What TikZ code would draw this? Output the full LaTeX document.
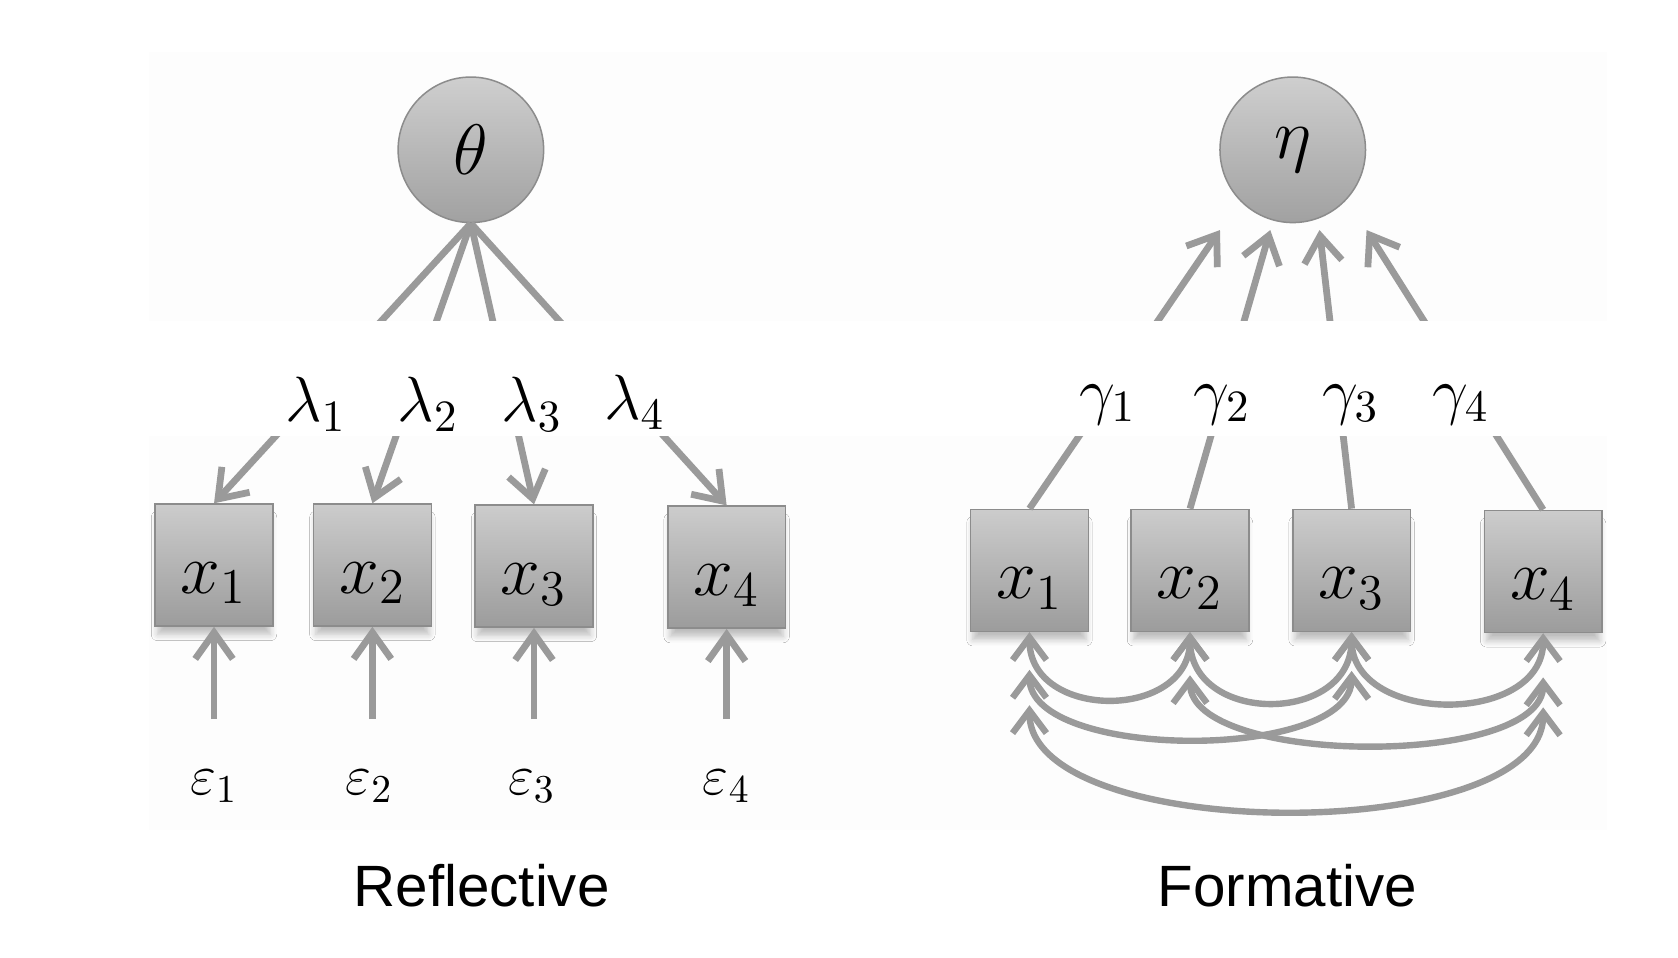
\RequirePackage{fix-cm}
\documentclass[tikz,border=0pt]{standalone}
\usepackage{fontspec}
\setsansfont{Liberation Sans}
\usetikzlibrary{arrows.meta,shadows.blur}
\definecolor{linegray}{RGB}{154,154,154}
\definecolor{boxtop}{RGB}{204,204,204}
\definecolor{boxbot}{RGB}{156,156,156}
\definecolor{boxrim}{RGB}{140,140,140}
\definecolor{panelgray}{RGB}{253,253,253}

\begin{document}
\begin{tikzpicture}[x=0.1mm,y=-0.1mm,
    latent/.style={circle,draw=boxrim,top color=boxtop!95,bottom color=boxbot!95,
      minimum size=13.6mm,inner sep=0pt,font=\fontsize{19}{22}\selectfont},
    obs/.style={rectangle,draw=boxrim,top color=boxtop,bottom color=boxbot,
      minimum width=11mm,minimum height=11.4mm,inner sep=0pt,
      text height=18pt,text depth=3pt,font=\fontsize{19}{22}\selectfont,
      blur shadow={shadow xshift=0pt,shadow yshift=-3pt,shadow scale=0.96,
        shadow opacity=25,shadow blur steps=5}},
    load/.style={draw=linegray,line width=1.8pt,-{Straight Barb[length=7pt,width=10pt]}},
    cov/.style={draw=linegray,line width=1.7pt,
      {Straight Barb[length=6pt,width=9pt]}-{Straight Barb[length=6pt,width=9pt]}},
    coef/.style={font=\fontsize{17}{20}\selectfont},
    err/.style={font=\fontsize{15}{18}\selectfont},
    title/.style={font=\sffamily\fontsize{15.5}{18}\selectfont}]
  \useasboundingbox (0,0) rectangle (1568,895);
  \fill[panelgray] (139,49) rectangle (1502,776);

  % reflective
  \node[latent] (theta) at (440,140) {$\theta$};
  \node[obs] (rx1) at (200,528) {$x_1$};
  \node[obs] (rx2) at (348,528) {$x_2$};
  \node[obs] (rx3) at (499,529) {$x_3$};
  \node[obs] (rx4) at (679,530) {$x_4$};
  \draw[load] (theta.south) -- (rx1.north);
  \draw[load] (theta.south) -- (rx2.north);
  \draw[load] (theta.south) -- (rx3.north);
  \draw[load] (theta.south) -- (rx4.north);
  \coordinate (e1s) at (200,672);
  \coordinate (e2s) at (348,672);
  \coordinate (e3s) at (499,672);
  \coordinate (e4s) at (679,672);
  \draw[load] (e1s) -- (rx1.south);
  \draw[load] (e2s) -- (rx2.south);
  \draw[load] (e3s) -- (rx3.south);
  \draw[load] (e4s) -- (rx4.south);
  \node[err] (e1) at (200,735) {$\varepsilon_1$};
  \node[err] (e2) at (345,735) {$\varepsilon_2$};
  \node[err] (e3) at (497,735) {$\varepsilon_3$};
  \node[err] (e4) at (679,735) {$\varepsilon_4$};
  \node[title] (reflect) at (450,828) {Reflective};

  % formative
  \node[latent] (eta) at (1208,140) {$\eta$};
  \node[obs] (fx1) at (962,533) {$x_1$};
  \node[obs] (fx2) at (1112,533) {$x_2$};
  \node[obs] (fx3) at (1263,533) {$x_3$};
  \node[obs] (fx4) at (1442,534) {$x_4$};
  \coordinate (g1t) at (1140,215);
  \coordinate (g2t) at (1187,215);
  \coordinate (g3t) at (1233,215);
  \coordinate (g4t) at (1277,215);
  \draw[load] (fx1.north) -- (g1t);
  \draw[load] (fx2.north) -- (g2t);
  \draw[load] (fx3.north) -- (g3t);
  \draw[load] (fx4.north) -- (g4t);
  \coordinate (c13a) at (962,626);
  \coordinate (c13b) at (1263,627);
  \coordinate (c24a) at (1112,631);
  \coordinate (c24b) at (1442,633);
  \coordinate (c14a) at (962,659);
  \coordinate (c14b) at (1442,661);
  \draw[cov] (fx1.south) .. controls +(0,83) and +(0,83) .. (fx2.south);
  \draw[cov] (fx2.south) .. controls +(0,87) and +(0,87) .. (fx3.south);
  \draw[cov] (fx3.south) .. controls +(0,87) and +(0,87) .. (fx4.south);
  \draw[cov] (c13a) .. controls +(0,85) and +(0,85) .. (c13b);
  \draw[cov] (c24a) .. controls +(0,85) and +(0,85) .. (c24b);
  \draw[cov] (c14a) .. controls +(0,130) and +(0,130) .. (c14b);
  \node[title] (form) at (1203,828) {Formative};

  % label band
  \fill[white] (139,300) rectangle (1502,407);
  \node[coef] (l1) at (295,378) {$\lambda_1$};
  \node[coef] (l2) at (400,378) {$\lambda_2$};
  \node[coef] (l3) at (497,378) {$\lambda_3$};
  \node[coef] (l4) at (593,376) {$\lambda_4$};
  \node[coef] (g1) at (1035,378) {$\gamma_1$};
  \node[coef] (g2) at (1142,378) {$\gamma_2$};
  \node[coef] (g3) at (1262,378) {$\gamma_3$};
  \node[coef] (g4) at (1365,378) {$\gamma_4$};
\end{tikzpicture}
\end{document}
